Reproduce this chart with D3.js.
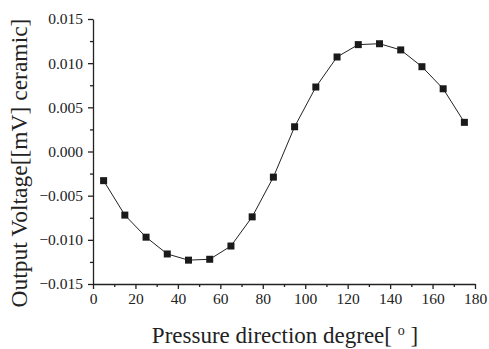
<!DOCTYPE html>
<html>
<head>
<meta charset="utf-8">
<script src="https://cdn.jsdelivr.net/npm/d3@7"></script>
<style>
  body { margin: 0; background: #fff; }
  svg text { font-family: "Liberation Serif", "Times New Roman", serif !important; fill: #222; }
  .axis path, .axis line { stroke: #222; stroke-width: 1.3; }
</style>
</head>
<body>
<div id="chart"></div>
<script>
// angles in degrees
const degrees = [5, 15, 25, 35, 45, 55, 65, 75, 85, 95, 105, 115, 125, 135, 145, 155, 165, 175];
// output voltage [mV]
const voltage = [-0.0033, -0.0072, -0.0097, -0.0116, -0.0123, -0.0122, -0.0107, -0.0074, -0.0029,
  0.0028, 0.0073, 0.0107, 0.0121, 0.0122, 0.0115, 0.0096, 0.0071, 0.0033];
const xTicks = [0, 20, 40, 60, 80, 100, 120, 140, 160, 180];
const yTicks = [-0.015, -0.010, -0.005, 0.000, 0.005, 0.010, 0.015];

const width = 489, height = 349;
const margin = { left: 93, right: 14, top: 19, bottom: 65 };
const serif = "'Liberation Serif', 'Times New Roman', serif";

const svg = d3.select("#chart").append("svg")
  .attr("width", width)
  .attr("height", height)
  .attr("font-family", serif);

const x = d3.scaleLinear().domain([0, 180]).range([margin.left, width - margin.right]);
const y = d3.scaleLinear().domain([-0.015, 0.015]).range([height - margin.bottom, margin.top]);

// minor ticks first, then major on top
svg.append("g").attr("class", "axis")
  .attr("transform", `translate(0, ${y(-0.015)})`)
  .call(d3.axisBottom(x).tickValues(d3.range(10, 180, 20)).tickSize(3).tickFormat(""))
  .call(g => g.select(".domain").remove());
svg.append("g").attr("class", "axis")
  .attr("transform", `translate(${x(0)}, 0)`)
  .call(d3.axisLeft(y).tickValues(d3.range(-0.0125, 0.015, 0.005)).tickSize(3).tickFormat(""))
  .call(g => g.select(".domain").remove());

svg.append("g").attr("class", "axis")
  .attr("transform", `translate(0, ${y(-0.015)})`)
  .call(d3.axisBottom(x).tickValues(xTicks).tickSize(5).tickSizeOuter(0).tickPadding(4))
  .attr("font-family", serif)
  .call(g => g.selectAll("text").attr("font-size", 15.5).attr("fill", "#222"));

svg.append("g").attr("class", "axis")
  .attr("transform", `translate(${x(0)}, 0)`)
  .call(d3.axisLeft(y).tickValues(yTicks).tickSize(5).tickSizeOuter(0).tickPadding(5).tickFormat(d3.format(".3f")))
  .attr("font-family", serif)
  .call(g => g.selectAll("text").attr("font-size", 15.5).attr("fill", "#222"));

const pts = degrees.map((d, i) => [d, voltage[i]]);

svg.append("path")
  .datum(pts)
  .attr("fill", "none")
  .attr("stroke", "#222")
  .attr("stroke-width", 1)
  .attr("d", d3.line().x(d => x(d[0])).y(d => y(d[1])));

svg.append("g").selectAll("rect").data(pts).join("rect")
  .attr("x", d => x(d[0]) - 3.5)
  .attr("y", d => y(d[1]) - 3.5)
  .attr("width", 7)
  .attr("height", 7)
  .attr("fill", "#1a1a1a");

const xt = svg.append("text")
  .attr("x", 285)
  .attr("y", 343)
  .attr("text-anchor", "middle")
  .attr("font-size", 23);
xt.append("tspan").text("Pressure direction degree[ ");
xt.append("tspan").attr("font-size", 14).attr("dy", -8).text("o");
xt.append("tspan").attr("dy", 8).text(" ]");

svg.append("text")
  .attr("transform", "translate(27, 163) rotate(-90)")
  .attr("text-anchor", "middle")
  .attr("font-size", 23.5)
  .text("Output Voltage[[mV] ceramic]");
</script>
</body>
</html>
